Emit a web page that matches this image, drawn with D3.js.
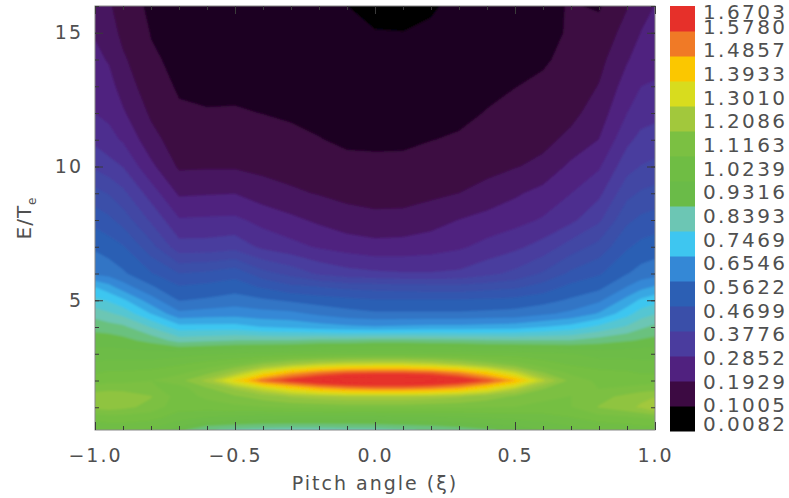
<!DOCTYPE html>
<html>
<head>
<meta charset="utf-8">
<script src="https://cdn.jsdelivr.net/npm/d3@7"></script>
<style>
  body { margin: 0; background: #fff; }
  text { font-family: "DejaVu Sans", sans-serif; fill: #505050; }
</style>
</head>
<body>
<svg id="chart" width="789" height="498"></svg>
<script>
// grid columns (pitch angle) and rows (E/Te)
var pitch = [-1.0, -0.95, -0.9, -0.8, -0.7, -0.6, -0.5, -0.4, -0.3, -0.2, -0.1, 0.0,
             0.1, 0.2, 0.3, 0.4, 0.5, 0.6, 0.7, 0.8, 0.9, 0.95, 1.0];
var energy = [0.15, 0.6, 1.0, 1.4, 1.7, 2.0, 2.3, 2.6, 3.0, 3.5, 4.0, 4.5, 5.0, 5.5,
              6.0, 7.0, 8.0, 9.0, 10.0, 11.0, 12.0, 13.0, 14.0, 15.0, 16.0];

// one row per energy value, one entry per pitch column
var density = [
  [0.98, 0.99, 0.99, 0.97, 0.90, 0.845, 0.83, 0.82, 0.815, 0.815, 0.82, 0.825, 0.835, 0.845, 0.86, 0.88, 0.90, 0.93, 0.96, 0.98, 0.99, 1.00, 1.00],
  [1.04, 1.05, 1.05, 1.04, 1.00, 0.97, 0.96, 0.95, 0.95, 0.95, 0.95, 0.95, 0.955, 0.96, 0.97, 0.98, 0.99, 1.00, 1.02, 1.05, 1.06, 1.07, 1.08],
  [1.13, 1.14, 1.13, 1.10, 1.04, 1.05, 1.06, 1.07, 1.08, 1.085, 1.09, 1.09, 1.09, 1.085, 1.08, 1.075, 1.07, 1.06, 1.07, 1.12, 1.15, 1.17, 1.21],
  [1.15, 1.16, 1.15, 1.12, 1.05, 1.08, 1.11, 1.14, 1.17, 1.19, 1.20, 1.20, 1.20, 1.19, 1.17, 1.14, 1.11, 1.08, 1.07, 1.10, 1.13, 1.15, 1.16],
  [1.09, 1.10, 1.10, 1.08, 1.05, 1.11, 1.17, 1.25, 1.33, 1.40, 1.44, 1.46, 1.46, 1.44, 1.40, 1.32, 1.22, 1.12, 1.08, 1.07, 1.08, 1.09, 1.10],
  [1.05, 1.06, 1.06, 1.07, 1.10, 1.18, 1.32, 1.48, 1.56, 1.62, 1.66, 1.67, 1.67, 1.65, 1.60, 1.52, 1.40, 1.22, 1.10, 1.06, 1.05, 1.05, 1.05],
  [1.02, 1.03, 1.03, 1.04, 1.06, 1.10, 1.18, 1.30, 1.40, 1.46, 1.50, 1.51, 1.51, 1.49, 1.44, 1.35, 1.24, 1.12, 1.06, 1.04, 1.03, 1.02, 1.02],
  [0.99, 1.00, 1.00, 1.00, 1.02, 1.05, 1.08, 1.14, 1.19, 1.23, 1.25, 1.26, 1.26, 1.24, 1.20, 1.15, 1.10, 1.05, 1.02, 1.00, 1.00, 0.99, 0.99],
  [0.95, 0.95, 0.95, 0.95, 0.96, 0.97, 0.98, 0.99, 1.00, 1.01, 1.02, 1.02, 1.02, 1.015, 1.01, 1.00, 1.00, 0.99, 0.98, 0.96, 0.96, 0.96, 0.96],
  [0.91, 0.91, 0.90, 0.87, 0.82, 0.83, 0.84, 0.84, 0.84, 0.85, 0.85, 0.86, 0.86, 0.855, 0.85, 0.845, 0.84, 0.84, 0.84, 0.86, 0.88, 0.89, 0.90],
  [0.87, 0.86, 0.85, 0.79, 0.72, 0.72, 0.72, 0.70, 0.69, 0.675, 0.665, 0.66, 0.665, 0.67, 0.67, 0.675, 0.68, 0.70, 0.72, 0.76, 0.80, 0.83, 0.85],
  [0.82, 0.80, 0.78, 0.70, 0.62, 0.63, 0.635, 0.625, 0.62, 0.60, 0.58, 0.57, 0.57, 0.57, 0.57, 0.575, 0.58, 0.60, 0.62, 0.66, 0.73, 0.77, 0.79],
  [0.76, 0.74, 0.71, 0.63, 0.56, 0.57, 0.585, 0.57, 0.555, 0.54, 0.53, 0.52, 0.52, 0.52, 0.52, 0.525, 0.53, 0.545, 0.57, 0.60, 0.67, 0.71, 0.73],
  [0.70, 0.67, 0.63, 0.57, 0.52, 0.53, 0.54, 0.51, 0.48, 0.47, 0.455, 0.45, 0.445, 0.44, 0.44, 0.45, 0.46, 0.49, 0.53, 0.55, 0.61, 0.64, 0.66],
  [0.60, 0.59, 0.57, 0.52, 0.47, 0.48, 0.50, 0.44, 0.41, 0.37, 0.35, 0.34, 0.335, 0.335, 0.34, 0.365, 0.39, 0.43, 0.48, 0.51, 0.56, 0.58, 0.59],
  [0.555, 0.54, 0.52, 0.44, 0.35, 0.35, 0.36, 0.32, 0.30, 0.28, 0.265, 0.255, 0.258, 0.265, 0.278, 0.30, 0.32, 0.35, 0.40, 0.44, 0.51, 0.53, 0.54],
  [0.50, 0.48, 0.45, 0.37, 0.29, 0.293, 0.295, 0.27, 0.25, 0.23, 0.212, 0.205, 0.206, 0.22, 0.24, 0.255, 0.27, 0.29, 0.32, 0.37, 0.46, 0.48, 0.49],
  [0.44, 0.42, 0.39, 0.31, 0.232, 0.235, 0.238, 0.215, 0.20, 0.19, 0.18, 0.175, 0.176, 0.183, 0.193, 0.21, 0.232, 0.255, 0.285, 0.32, 0.41, 0.43, 0.44],
  [0.37, 0.35, 0.33, 0.25, 0.186, 0.188, 0.188, 0.18, 0.175, 0.165, 0.156, 0.155, 0.156, 0.16, 0.165, 0.178, 0.19, 0.205, 0.25, 0.28, 0.36, 0.38, 0.39],
  [0.32, 0.30, 0.28, 0.21, 0.167, 0.165, 0.165, 0.16, 0.155, 0.148, 0.141, 0.14, 0.14, 0.146, 0.15, 0.16, 0.172, 0.18, 0.205, 0.24, 0.32, 0.345, 0.35],
  [0.285, 0.275, 0.245, 0.185, 0.152, 0.148, 0.15, 0.146, 0.142, 0.137, 0.133, 0.132, 0.131, 0.135, 0.14, 0.148, 0.156, 0.165, 0.18, 0.215, 0.285, 0.31, 0.32],
  [0.265, 0.255, 0.22, 0.165, 0.142, 0.142, 0.138, 0.136, 0.132, 0.13, 0.126, 0.125, 0.124, 0.128, 0.133, 0.14, 0.146, 0.152, 0.163, 0.195, 0.26, 0.285, 0.29],
  [0.25, 0.235, 0.20, 0.152, 0.138, 0.136, 0.128, 0.125, 0.122, 0.122, 0.118, 0.117, 0.116, 0.12, 0.126, 0.132, 0.137, 0.143, 0.155, 0.178, 0.235, 0.26, 0.27],
  [0.235, 0.215, 0.18, 0.145, 0.135, 0.13, 0.12, 0.115, 0.112, 0.112, 0.108, 0.104, 0.102, 0.109, 0.12, 0.125, 0.13, 0.138, 0.15, 0.162, 0.21, 0.24, 0.25],
  [0.22, 0.20, 0.165, 0.14, 0.133, 0.125, 0.115, 0.108, 0.108, 0.112, 0.101, 0.078, 0.075, 0.094, 0.115, 0.12, 0.125, 0.135, 0.15, 0.142, 0.19, 0.225, 0.24]
];

// colour bar labels (bottom to top) and box colours (bottom to top)
var levelLabels = ["0.0082", "0.1005", "0.1929", "0.2852", "0.3776", "0.4699", "0.5622",
                   "0.6546", "0.7469", "0.8393", "0.9316", "1.0239", "1.1163", "1.2086",
                   "1.3010", "1.3933", "1.4857", "1.5780", "1.6703"];
var barColors = ["#000000", "#3c0a42", "#50217f", "#4a3c9e", "#3a4fa9", "#2c5fb4",
                 "#3488d6", "#3ec6f0", "#6cc6b4", "#6abb48", "#6fbd44", "#7bc042",
                 "#a2c83c", "#d8dc1e", "#fbc700", "#f07a26", "#e6302a"];

var xTicks = [-1.0, -0.5, 0.0, 0.5, 1.0];
var yTicks = [5, 10, 15];

var margin = { top: 6, right: 134, bottom: 68, left: 95 };
var width = 789 - margin.left - margin.right,   // 560
    height = 498 - margin.top - margin.bottom;  // 424

var svg = d3.select('#chart');

var xScale = d3.scaleLinear().domain([-1, 1]).range([margin.left, margin.left + width]);
var yScale = d3.scaleLinear().domain([0.15, 16]).range([margin.top + height, margin.top]);

// levels and the half steps between them, used as contour thresholds
var levels = levelLabels.map(Number);
var steps = [];
levels.forEach(function(v, i) {
  steps.push(v);
  if (i < levels.length - 1) steps.push((v + levels[i + 1]) / 2);
});

var colorScale = d3.scaleLinear()
  .domain(levels.slice(1, 18))
  .range(barColors)
  .clamp(true);

// grid coordinate -> data value (samples sit at cell centres)
function gridToData(arr, g) {
  var s = g - 0.5;
  var i = Math.max(0, Math.min(arr.length - 2, Math.floor(s)));
  return arr[i] + (s - i) * (arr[i + 1] - arr[i]);
}

var projection = d3.geoTransform({
  point: function(x, y) {
    this.stream.point(xScale(gridToData(pitch, x)), yScale(gridToData(energy, y)));
  }
});
var path = d3.geoPath(projection);

var defs = svg.append('defs');
defs.append('clipPath').attr('id', 'plotclip')
  .append('rect')
  .attr('x', margin.left).attr('y', margin.top)
  .attr('width', width).attr('height', height);
defs.append('filter').attr('id', 'soft')
  .attr('x', '-5%').attr('y', '-5%').attr('width', '110%').attr('height', '110%')
  .append('feGaussianBlur').attr('stdDeviation', 1.2);

var thresholds = steps.slice(2, steps.length - 1);
var contours = d3.contours()
  .size([pitch.length, energy.length])
  .thresholds(thresholds)(density.flat());

var plot = svg.append('g').attr('clip-path', 'url(#plotclip)')
  .append('g').attr('filter', 'url(#soft)');

plot.append('rect')
  .attr('x', margin.left - 10).attr('y', margin.top - 10)
  .attr('width', width + 20).attr('height', height + 20)
  .attr('fill', barColors[0]);

plot.selectAll('path')
  .data(contours)
  .enter().append('path')
  .attr('d', path)
  .attr('fill', function(d) {
    var k = steps.indexOf(d.value);
    return colorScale(steps[k + 1]);
  });

// frame
svg.append('rect')
  .attr('x', margin.left).attr('y', margin.top)
  .attr('width', width).attr('height', height)
  .attr('fill', 'none').attr('stroke', '#888').attr('stroke-width', 1);

function styleAxis(g) {
  g.select('.domain').remove();
  g.selectAll('line').attr('stroke', '#3a3a3a');
  g.selectAll('text')
    .style('font-size', '19px')
    .style('letter-spacing', '2px')
    .attr('fill', '#505050');
}

var minorX = d3.range(-10, 11).map(function(d) { return d / 10; });
var minorY = d3.range(1, 17);

svg.append('g').attr('transform', 'translate(0,' + (margin.top + height) + ')')
  .call(d3.axisBottom(xScale).tickValues(minorX).tickSize(-4).tickFormat(''))
  .call(styleAxis);
svg.append('g').attr('transform', 'translate(0,' + (margin.top + height) + ')')
  .call(d3.axisBottom(xScale).tickValues(xTicks).tickSize(-8).tickSizeOuter(0)
        .tickPadding(19).tickFormat(d3.format('.1f')))
  .call(styleAxis);
svg.append('g').attr('transform', 'translate(0,' + margin.top + ')')
  .call(d3.axisTop(xScale).tickValues(minorX).tickSize(-4).tickFormat(''))
  .call(styleAxis);
svg.append('g').attr('transform', 'translate(0,' + margin.top + ')')
  .call(d3.axisTop(xScale).tickValues(xTicks).tickSize(-8).tickFormat(''))
  .call(styleAxis);

svg.append('g').attr('transform', 'translate(' + margin.left + ',0)')
  .call(d3.axisLeft(yScale).tickValues(minorY).tickSize(-4).tickFormat(''))
  .call(styleAxis);
svg.append('g').attr('transform', 'translate(' + margin.left + ',0)')
  .call(d3.axisLeft(yScale).tickValues(yTicks).tickSize(-8).tickSizeOuter(0)
        .tickPadding(12).tickFormat(d3.format('d')))
  .call(styleAxis);
svg.append('g').attr('transform', 'translate(' + (margin.left + width) + ',0)')
  .call(d3.axisRight(yScale).tickValues(minorY).tickSize(-4).tickFormat(''))
  .call(styleAxis);
svg.append('g').attr('transform', 'translate(' + (margin.left + width) + ',0)')
  .call(d3.axisRight(yScale).tickValues(yTicks).tickSize(-8).tickFormat(''))
  .call(styleAxis);

// axis titles
svg.append('text')
  .attr('x', margin.left + width / 2)
  .attr('y', 490)
  .attr('text-anchor', 'middle')
  .style('font-size', '19px')
  .style('letter-spacing', '2px')
  .text('Pitch angle (\u03BE)');

var ytitle = svg.append('text')
  .attr('transform', 'translate(31,' + 218 + ') rotate(-90)')
  .attr('text-anchor', 'middle')
  .style('font-size', '20px')
  .style('letter-spacing', '1px');
ytitle.append('tspan').text('E/T');
ytitle.append('tspan').attr('dy', 5).style('font-size', '12px').text('e');

// colour bar
var barX = 670, barW = 25;
var barScale = d3.scaleBand()
  .domain(d3.range(barColors.length))
  .range([margin.top + 425, margin.top]);

svg.append('g').selectAll('rect')
  .data(barColors)
  .enter().append('rect')
  .attr('x', barX)
  .attr('y', function(d, i) { return barScale(i); })
  .attr('width', barW)
  .attr('height', barScale.bandwidth() + 0.5)
  .attr('fill', function(d) { return d; });

var labelScale = d3.scaleLinear()
  .domain([0, levelLabels.length - 1])
  .range([margin.top + height + 2, margin.top]);

svg.append('g').selectAll('text')
  .data(levelLabels)
  .enter().append('text')
  .attr('x', 703)
  .attr('y', function(d, i) {
    var c = labelScale(i) - 3;
    c = Math.max(12, Math.min(424, c));
    return c + 7;
  })
  .style('font-size', '20px')
  .style('letter-spacing', '2.4px')
  .text(function(d) { return d; });
</script>
</body>
</html>
